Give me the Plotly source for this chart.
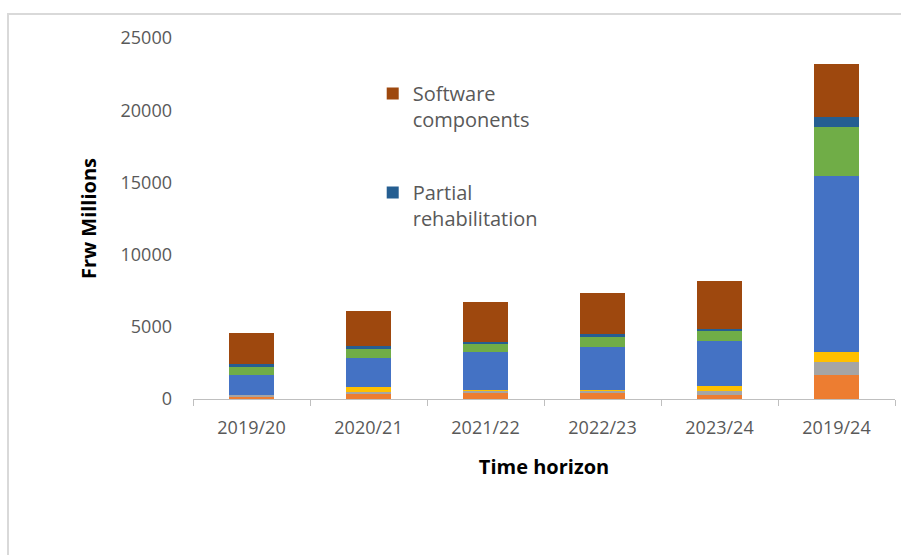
import plotly.graph_objects as go

# Fiscal periods on the category axis
periods = ["2019/20", "2020/21", "2021/22", "2022/23", "2023/24", "2019/24"]

# Stacked cost components (Frw millions), listed bottom to top
seg_orange = [200, 325, 420, 450, 277, 1660]
seg_gray = [50, 140, 150, 150, 300, 920]
seg_yellow = [0, 346, 30, 25, 325, 690]
seg_blue = [1385, 2008, 2650, 2955, 3115, 12170]
seg_green = [575, 645, 620, 690, 760, 3370]
partial_rehabilitation = [235, 208, 100, 230, 100, 735]
software_components = [2147, 2445, 2770, 2860, 3310, 3630]

# Value axis ticks
y_ticks = [0, 5000, 10000, 15000, 20000, 25000]

# (name, values, colour, legend rank or None when hidden from legend)
layers = [
    ("orange", seg_orange, "#ED7D31", None),
    ("gray", seg_gray, "#A5A5A5", None),
    ("yellow", seg_yellow, "#FFC000", None),
    ("blue", seg_blue, "#4472C4", None),
    ("green", seg_green, "#70AD47", None),
    ("Partial<br>rehabilitation", partial_rehabilitation, "#255E91", 2),
    ("Software<br>components", software_components, "#9E480E", 1),
]

fig = go.Figure()
for i, (name, vals, color, rank) in enumerate(layers):
    fig.add_trace(go.Bar(
        x=periods, y=vals, name=name,
        marker=dict(color=color, line=dict(width=0)),
        showlegend=rank is not None, legendgroup=f"g{i}",
        legendrank=rank if rank is not None else 1000,
    ))

tick_font = dict(family="Open Sans", size=18, color="#595959")
title_font = dict(family="Open Sans", size=20, color="#000000")

fig.update_layout(
    width=901, height=555,
    barmode="stack", bargap=0.615,
    paper_bgcolor="white", plot_bgcolor="white",
    margin=dict(l=193, r=6, t=38, b=156, autoexpand=False),
    showlegend=True,
    legend=dict(
        x=0.256, y=0.9, xanchor="left", yanchor="top",
        traceorder="grouped", valign="top",
        font=dict(family="Open Sans", size=20, color="#595959"),
        tracegroupgap=44, bgcolor="rgba(0,0,0,0)",
    ),
    xaxis=dict(
        showline=True, linecolor="#BFBFBF", linewidth=1,
        ticks="outside", tickson="boundaries", ticklen=6, tickcolor="#BFBFBF",
        tickfont=tick_font, ticklabelstandoff=12,
        title=dict(text="<b>Time horizon</b>", font=title_font, standoff=22),
        showgrid=False,
    ),
    yaxis=dict(
        range=[0, 25000], tickvals=y_ticks, ticktext=[str(v) for v in y_ticks],
        showline=False, ticks="", showgrid=False, zeroline=False,
        tickfont=tick_font, ticklabelstandoff=20,
        title=dict(text="<b>Frw Millions</b>", font=title_font, standoff=18),
    ),
    shapes=[dict(
        type="rect", xref="paper", yref="paper",
        x0=-0.2635, x1=1.1, y0=-0.6, y1=1.0665,
        line=dict(color="#D9D9D9", width=2), fillcolor="rgba(0,0,0,0)",
        layer="below",
    )],
)

fig.write_html("out.html")
